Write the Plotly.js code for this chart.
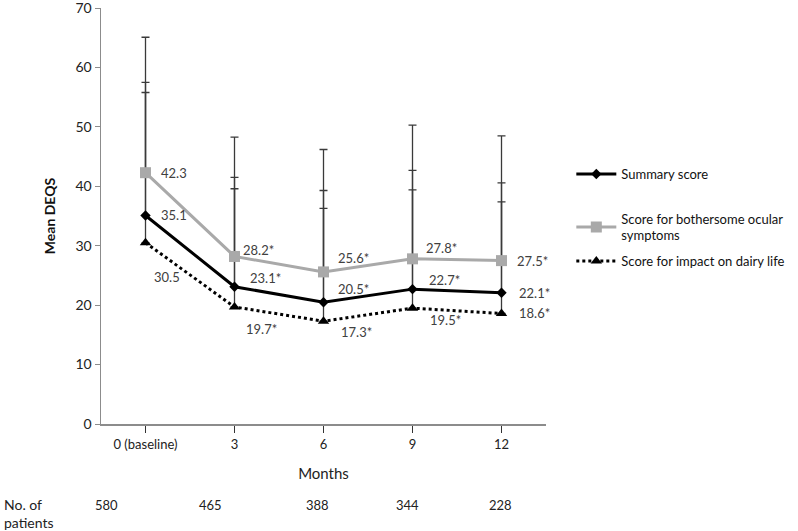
<!DOCTYPE html>
<html>
<head>
<meta charset="utf-8">
<script src="https://cdn.plot.ly/plotly-3.0.1.min.js"></script>
<style>html,body{margin:0;padding:0;background:#fff;}#chart{width:798px;height:531px;}</style>
</head>
<body>
<div id="chart"></div>
<script>
// ---- data ----
const months = ["0 (baseline)", "3", "6", "9", "12"];
const patients = [580, 465, 388, 344, 228];

const summaryName = "Summary score";
const summary = [35.1, 23.1, 20.5, 22.7, 22.1];
const summaryLabels = ["35.1", "23.1*", "20.5*", "22.7*", "22.1*"];
const summaryErrUp = [22.4, 18.4, 18.8, 20.0, 18.5];

const ocularName = "Score for bothersome ocular<br>symptoms";
const ocular = [42.3, 28.2, 25.6, 27.8, 27.5];
const ocularLabels = ["42.3", "28.2*", "25.6*", "27.8*", "27.5*"];
const ocularErrUp = [22.8, 20.1, 20.6, 22.5, 21.0];

const impactName = "Score for impact on dairy life";
const impact = [30.5, 19.7, 17.3, 19.5, 18.6];
const impactLabels = ["30.5", "19.7*", "17.3*", "19.5*", "18.6*"];
const impactErrUp = [25.3, 19.9, 19.0, 19.9, 18.8];

const yTicks = [0, 10, 20, 30, 40, 50, 60, 70];

// ---- style ----
const FONT = "Lato, 'Open Sans', sans-serif";
const TXT = "#404040";
const GRAY = "#a9a9a9";
const errStyle = {type: "data", symmetric: false, color: "#3a3a3a", thickness: 1.3, width: 4};

function err(arr) {
  return Object.assign({}, errStyle, {array: arr, arrayminus: arr.map(() => 0)});
}

const traces = [
  {
    x: months, y: impact, name: impactName, mode: "lines+markers", legend: "legend3",
    line: {color: "#000", width: 3, dash: "dot"},
    marker: {symbol: "triangle-up", size: 10, color: "#000"},
    error_y: err(impactErrUp)
  },
  {
    x: months, y: summary, name: summaryName, mode: "lines+markers", legend: "legend",
    line: {color: "#000", width: 3},
    marker: {symbol: "diamond", size: 8, color: "#000"},
    error_y: err(summaryErrUp)
  },
  {
    x: months, y: ocular, name: ocularName, mode: "lines+markers", legend: "legend2",
    line: {color: GRAY, width: 3},
    marker: {symbol: "square", size: 11, color: GRAY},
    error_y: err(ocularErrUp)
  }
];

const shifts = {
  ocular: {dx: [13, 6, 12, 11, 13], dy: [0, 6, 14, 11, 0]},
  summary: {dx: [13, 13, 12, 14, 15], dy: [0, 9, 13, 9, 0]},
  impact: {dx: [6, 9, 15, 15, 15], dy: [-34, -22, -11, -12, 0]}
};

// category axis: annotation x given as category index
const annotations = [];
function addLabels(vals, labels, sh) {
  vals.forEach((v, i) => {
    annotations.push({
      x: i, y: v, xref: "x", yref: "y", text: labels[i], showarrow: false,
      xanchor: "left", yanchor: "middle", xshift: sh.dx[i], yshift: sh.dy[i],
      font: {family: FONT, size: 13, color: TXT}
    });
  });
}
addLabels(ocular, ocularLabels, shifts.ocular);
addLabels(summary, summaryLabels, shifts.summary);
addLabels(impact, impactLabels, shifts.impact);

const patShift = [-39, -24, -6, -5, -1];
patients.forEach((n, i) => {
  annotations.push({
    x: i, y: -0.195, xref: "x", yref: "paper", text: String(n), showarrow: false,
    xanchor: "center", yanchor: "middle", xshift: patShift[i],
    font: {family: FONT, size: 13, color: "#222"}
  });
});
annotations.push({
  x: 0, y: -0.216, xref: "paper", yref: "paper", xshift: -99, text: "No. of<br>patients",
  showarrow: false, xanchor: "left", yanchor: "middle", align: "left",
  font: {family: FONT, size: 14, color: "#222"}
});

const legendBase = {
  xref: "paper", yref: "paper", xanchor: "left", yanchor: "middle",
  bgcolor: "rgba(0,0,0,0)", itemwidth: 40, font: {family: FONT, size: 13, color: "#111"}
};
function px2y(py) { return (424 - py) / 416; }
function px2x(px) { return (px - 101) / 457; }

const layout = {
  width: 798, height: 531,
  margin: {l: 101, r: 240, t: 8, b: 107},
  paper_bgcolor: "#fff", plot_bgcolor: "#fff",
  font: {family: FONT, size: 13, color: TXT},
  showlegend: true,
  legend: Object.assign({}, legendBase, {x: px2x(584), y: px2y(174)}),
  legend2: Object.assign({}, legendBase, {x: px2x(584), y: px2y(227)}),
  legend3: Object.assign({}, legendBase, {x: px2x(584), y: px2y(261)}),
  xaxis: {
    type: "category", range: [-0.5, 4.5],
    showline: true, linecolor: "#8c8c8c", linewidth: 2,
    ticks: "outside", ticklen: 7, tickwidth: 1.5, tickcolor: "#333",
    showgrid: false, zeroline: false,
    tickfont: {family: FONT, size: 13, color: "#222"},
    title: {text: "Months", font: {family: FONT, size: 15, color: "#222"}, standoff: 18}
  },
  yaxis: {
    range: [0, 70.02], tickvals: yTicks, ticklabeloverflow: "allow",
    showline: true, linecolor: "#8c8c8c", linewidth: 1.5,
    ticks: "outside", ticklen: 5, tickwidth: 1, tickcolor: "#8c8c8c",
    showgrid: false, zeroline: false,
    tickfont: {family: FONT, size: 14, color: "#222"},
    title: {text: "<b>Mean DEQS</b>", font: {family: FONT, size: 14, color: "#111"}, standoff: 16}
  },
  annotations: annotations
};

Plotly.newPlot("chart", traces, layout, {displayModeBar: false, staticPlot: true});
</script>
</body>
</html>
